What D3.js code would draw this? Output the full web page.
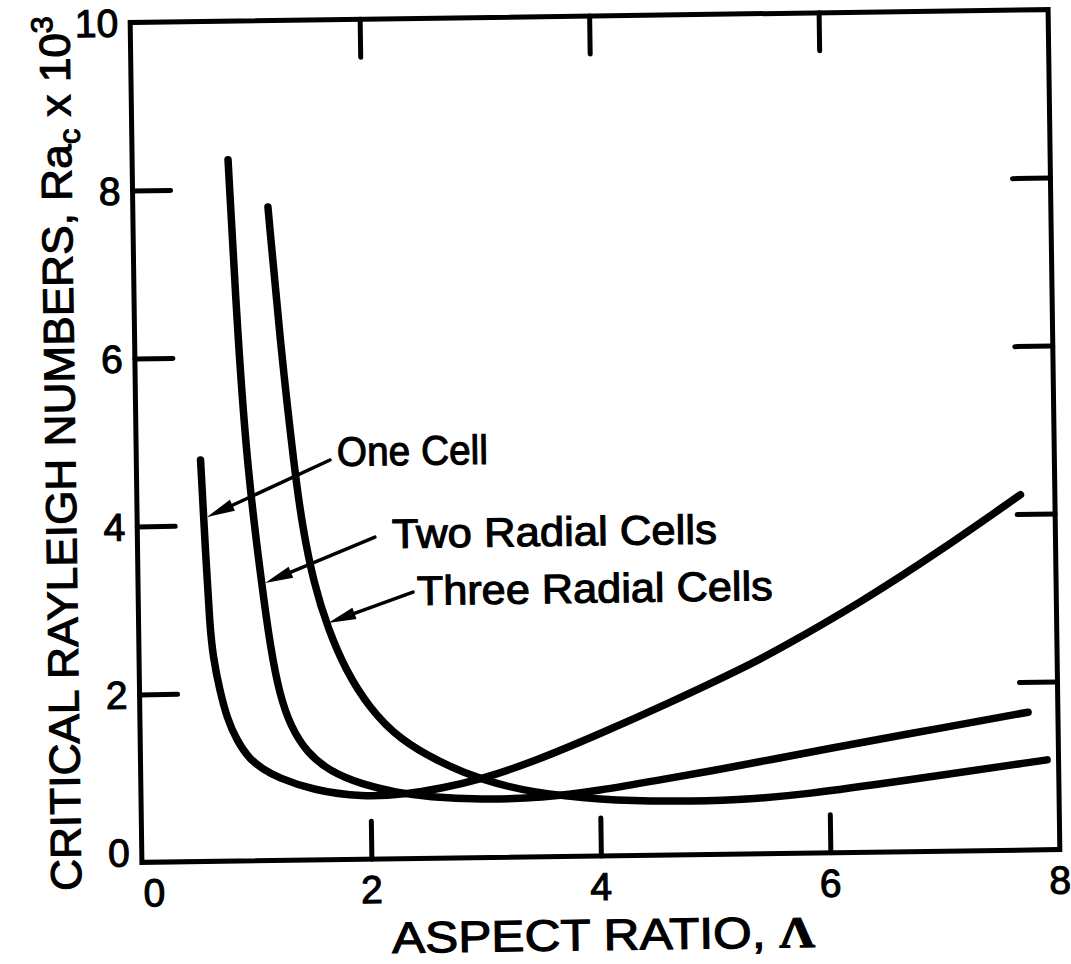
<!DOCTYPE html>
<html><head><meta charset="utf-8">
<script src="https://cdn.jsdelivr.net/npm/d3@7"></script>
<style>body{margin:0;background:#fff}svg{display:block}</style>
</head><body>
<svg id="chart" width="1071" height="964"></svg>
<script>
// ---- data ----
const oneCellX = [0.56, 0.595, 0.62, 0.645, 0.70, 0.76, 0.84, 0.95, 1.067, 1.19, 1.50, 1.93, 2.30, 2.61, 2.96, 3.42, 4.00, 4.60, 5.32, 5.59, 6.29, 6.99, 7.70];
const oneCellY = [4.78, 3.59, 2.82, 2.43, 2.03, 1.70, 1.44, 1.21, 1.09, 0.99, 0.83, 0.74, 0.765, 0.83, 0.93, 1.13, 1.45, 1.80, 2.25, 2.44, 2.97, 3.57, 4.23];
const twoCellsX = [0.836, 0.90, 0.97, 1.08, 1.15, 1.22, 1.31, 1.45, 1.65, 1.93, 2.22, 2.51, 2.95, 3.50, 4.00, 4.50, 5.00, 5.50, 6.00, 6.60, 7.74];
const twoCellsY = [8.35, 6.20, 4.62, 3.26, 2.50, 1.98, 1.60, 1.28, 1.05, 0.89, 0.79, 0.73, 0.69, 0.70, 0.78, 0.89, 1.00, 1.12, 1.24, 1.38, 1.64];
const threeCellsX = [1.178, 1.266, 1.38, 1.44, 1.53, 1.65, 1.80, 2.00, 2.26, 2.61, 2.956, 3.42, 4.00, 4.60, 5.20, 5.80, 6.62, 7.90];
const threeCellsY = [7.78, 6.20, 4.61, 3.97, 3.30, 2.75, 2.25, 1.80, 1.42, 1.14, 0.93, 0.76, 0.67, 0.635, 0.64, 0.70, 0.84, 1.07];
const seriesNames = ["One Cell", "Two Radial Cells", "Three Radial Cells"];
const xTickLabels = [0, 2, 4, 6, 8];
const yTickLabels = [0, 2, 4, 6, 8, 10];
const xInnerTicks = [2, 4, 6];
const yInnerTicks = [2, 4, 6, 8];
const xTitle = "ASPECT RATIO, ";
const xTitleSymbol = "Λ";
const yTitle = ["CRITICAL RAYLEIGH NUMBERS, Ra", "c", " x 10", "3"];

// annotation anchors in data units: leader start, arrow tip, text baseline start
const annotations = [
  {name: seriesNames[0], start: [1.688, 4.758], tip: [0.609, 4.10], text: [1.749, 4.686], width: 151},
  {name: seriesNames[1], start: [2.070, 3.833], tip: [1.107, 3.305], text: [2.218, 3.700], width: 325},
  {name: seriesNames[2], start: [2.395, 3.173], tip: [1.652, 2.818], text: [2.428, 3.018], width: 356}
];

// ---- layout ----
const L = 136, R = 1054, T = 16, B = 856;
const x = d3.scaleLinear().domain([0, 8]).range([L, R]);
const y = d3.scaleLinear().domain([0, 10]).range([B, T]);
const FONT = "'Liberation Sans', Arial, sans-serif";

const svg = d3.select("#chart");
svg.append("rect").attr("width", 1071).attr("height", 964).attr("fill", "#fff");
const g = svg.append("g").attr("transform", "rotate(-0.8,595,436)");

// frame
g.append("rect").attr("x", L).attr("y", T).attr("width", R - L).attr("height", B - T)
  .attr("fill", "none").attr("stroke", "#000").attr("stroke-width", 5);

// inner ticks on four sides
const TL = 38;
function styleAxis(sel) {
  sel.select(".domain").remove();
  sel.selectAll("text").remove();
  sel.selectAll(".tick line").attr("stroke", "#000").attr("stroke-width", 5).attr("stroke-linecap", "round");
}
g.append("g").attr("transform", `translate(0,${B})`)
  .call(d3.axisBottom(x).tickValues(xInnerTicks).tickSize(-TL).tickFormat("")).call(styleAxis);
g.append("g").attr("transform", `translate(0,${T})`)
  .call(d3.axisTop(x).tickValues(xInnerTicks).tickSize(-TL).tickFormat("")).call(styleAxis);
g.append("g").attr("transform", `translate(${L},0)`)
  .call(d3.axisLeft(y).tickValues(yInnerTicks).tickSize(-TL).tickFormat("")).call(styleAxis);
g.append("g").attr("transform", `translate(${R},0)`)
  .call(d3.axisRight(y).tickValues(yInnerTicks).tickSize(-TL).tickFormat("")).call(styleAxis);

// tick labels
function heavy(sel) { sel.attr("stroke", "#000").attr("stroke-width", 1.1).attr("fill", "#000"); }
g.selectAll(".xl").data(xTickLabels).enter().append("text")
  .attr("x", d => x(d) + (d === 0 ? 12 : 0)).attr("y", B + 30).attr("dy", "0.36em")
  .attr("text-anchor", "middle").attr("font-family", FONT).attr("font-size", 39).text(d => d).call(heavy);
g.selectAll(".yl").data(yTickLabels).enter().append("text")
  .attr("x", L - 12).attr("y", d => y(d) - (d === 0 ? 10 : 0)).attr("dy", "0.36em")
  .attr("text-anchor", "end").attr("font-family", FONT).attr("font-size", 39).text(d => d).call(heavy);

// curves
const line = d3.line().x(d => x(d[0])).y(d => y(d[1])).curve(d3.curveBasis);
const series = [d3.zip(oneCellX, oneCellY), d3.zip(twoCellsX, twoCellsY), d3.zip(threeCellsX, threeCellsY)];
g.selectAll(".curve").data(series).enter().append("path")
  .attr("d", line).attr("fill", "none").attr("stroke", "#000")
  .attr("stroke-width", 7.5).attr("stroke-linecap", "round").attr("stroke-linejoin", "round");

// annotations
annotations.forEach(a => {
  const sx = x(a.start[0]), sy = y(a.start[1]), tx = x(a.tip[0]), ty = y(a.tip[1]);
  const ang = Math.atan2(sy - ty, sx - tx);
  const len = 28, hw = 6;
  const bx = tx + len * Math.cos(ang), by = ty + len * Math.sin(ang);
  g.append("line").attr("x1", sx).attr("y1", sy).attr("x2", bx).attr("y2", by)
    .attr("stroke", "#000").attr("stroke-width", 3.5).attr("stroke-linecap", "round");
  const px = -Math.sin(ang) * hw, py = Math.cos(ang) * hw;
  g.append("path").attr("d", `M${tx},${ty}L${bx + px},${by + py}L${bx - px},${by - py}Z`)
    .attr("fill", "#000");
  g.append("text").attr("x", x(a.text[0])).attr("y", y(a.text[1]))
    .attr("font-family", FONT).attr("font-size", 41)
    .attr("textLength", a.width).attr("lengthAdjust", "spacingAndGlyphs").text(a.name).call(heavy);
});

// x title
const xt = g.append("text").attr("x", 385).attr("y", 950).attr("font-family", FONT).attr("font-size", 44)
  .attr("textLength", 423).attr("lengthAdjust", "spacingAndGlyphs").call(heavy);
xt.append("tspan").text(xTitle);
xt.append("tspan").attr("font-family", "'Liberation Serif', 'DejaVu Serif', serif").attr("font-weight", "bold").text(xTitleSymbol);

// y title
const yt = g.append("text").attr("transform", "translate(75,446) rotate(-90)")
  .attr("text-anchor", "middle").attr("font-family", FONT).attr("font-size", 43)
  .attr("textLength", 875).attr("lengthAdjust", "spacingAndGlyphs").call(heavy);
yt.append("tspan").text(yTitle[0]);
yt.append("tspan").attr("font-size", 30).attr("dy", 9).text(yTitle[1]);
yt.append("tspan").attr("dy", -9).text(yTitle[2]);
yt.append("tspan").attr("font-size", 30).attr("dy", -17).text(yTitle[3]);
</script>
</body></html>
